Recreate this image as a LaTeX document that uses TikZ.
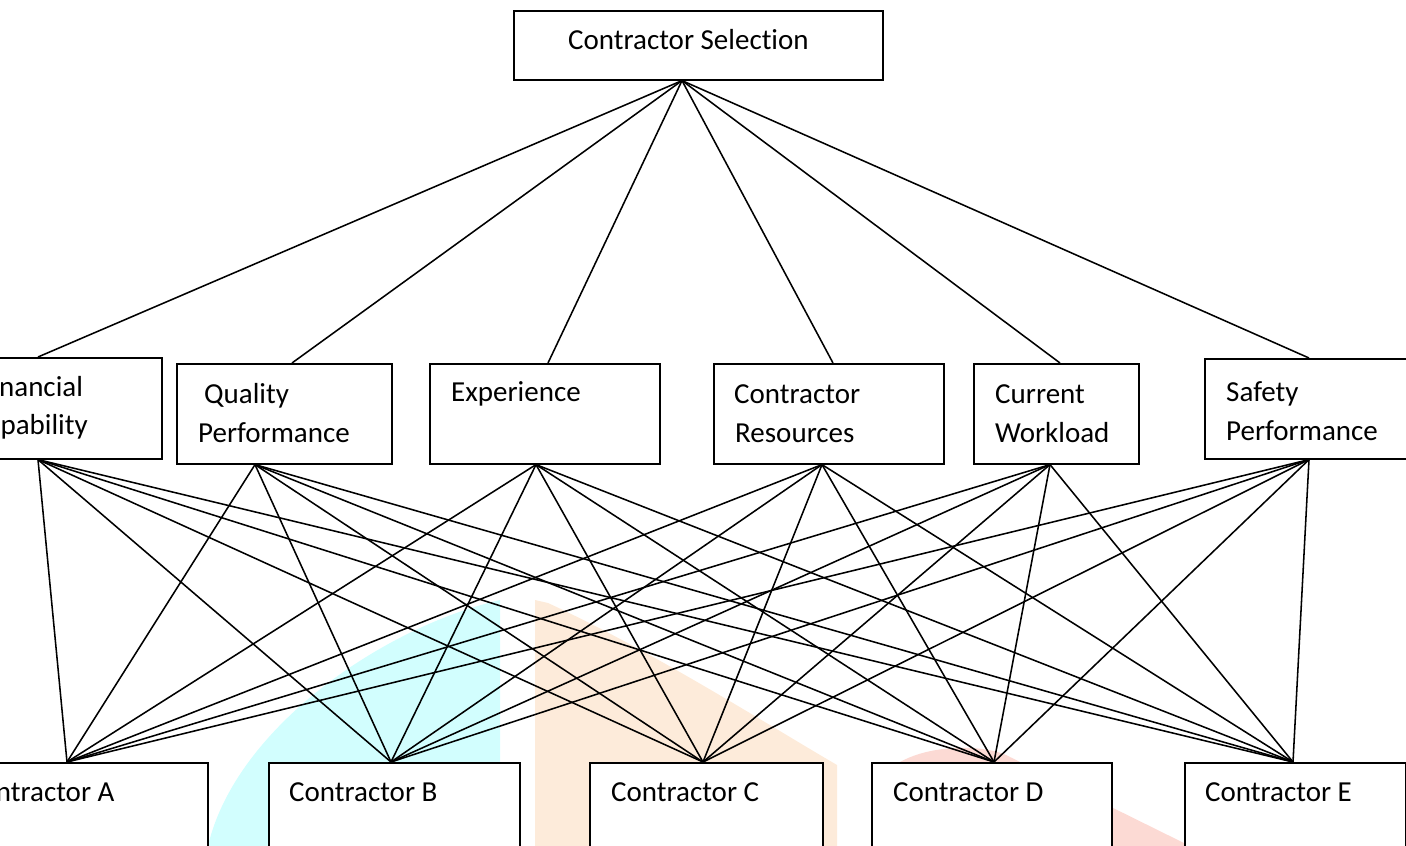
\documentclass[tikz,border=0pt]{standalone}
\usepackage{fontspec}
\setmainfont{Carlito}[Ligatures={NoCommon}]
\definecolor{wmcyan}{RGB}{210,254,254}
\definecolor{wmorange}{RGB}{253,235,218}
\definecolor{wmpink}{RGB}{252,218,212}
\begin{document}
\begin{tikzpicture}[x=1pt,y=-1pt,
  box/.style={draw=black,fill=white,line width=1.6pt,inner sep=0pt,anchor=north west},
  lbl/.style={anchor=base west,inner sep=0pt,font=\fontsize{29}{35}\selectfont},
  conn/.style={line width=1.55pt,black}]
\useasboundingbox (0,0) rectangle (1406,846);
\clip (0,0) rectangle (1406,846);
% faint watermark in the background
\fill[wmcyan] (208,846) .. controls (235,730) and (380,628) .. (500,600) -- (500,846) -- cycle;
\fill[wmorange] (535,846) -- (535,600) -- (548,603) .. controls (650,650) and (760,720) .. (837,765) -- (837,846) -- cycle;
\fill[wmpink] (895,846) -- (895,765) .. controls (930,742) and (990,745) .. (1010,757) -- (1190,846) -- cycle;
% boxes
\node[box,minimum width=369pt,minimum height=69pt] (sel) at (513,10) {};
\node[box,minimum width=221pt,minimum height=101pt] (fin) at (-60,357) {};
\node[box,minimum width=215pt,minimum height=100pt] (qual) at (176,363) {};
\node[box,minimum width=230pt,minimum height=100pt] (exp) at (429,363) {};
\node[box,minimum width=230pt,minimum height=100pt] (res) at (713,363) {};
\node[box,minimum width=165pt,minimum height=100pt] (work) at (973,363) {};
\node[box,minimum width=210pt,minimum height=100pt] (safe) at (1204,358) {};
\node[box,minimum width=267pt,minimum height=120pt] (cA) at (-60,762) {};
\node[box,minimum width=251pt,minimum height=120pt] (cB) at (268,762) {};
\node[box,minimum width=233pt,minimum height=120pt] (cC) at (589,762) {};
\node[box,minimum width=240pt,minimum height=120pt] (cD) at (871,762) {};
\node[box,minimum width=221pt,minimum height=120pt] (cE) at (1184,762) {};
% labels
\node[lbl] (tsel) at (568,49) {Contractor Selection};
\node[lbl] (tfin1) at (-21,396) {Financial};
\node[lbl] (tfin2) at (-29,434) {Capability};
\node[lbl] (tqual1) at (204,403) {Quality};
\node[lbl] (tqual2) at (198,442) {Performance};
\node[lbl] (texp) at (451,401) {Experience};
\node[lbl] (tres1) at (734,403) {Contractor};
\node[lbl] (tres2) at (735,442) {Resources};
\node[lbl] (twork1) at (995,403) {Current};
\node[lbl] (twork2) at (995,442) {Workload};
\node[lbl] (tsafe1) at (1226,401) {Safety};
\node[lbl] (tsafe2) at (1226,440) {Performance};
\node[lbl] (tA) at (-35,801) {Contractor A};
\node[lbl] (tB) at (289,801) {Contractor B};
\node[lbl] (tC) at (611,801) {Contractor C};
\node[lbl] (tD) at (893,801) {Contractor D};
\node[lbl] (tE) at (1205,801) {Contractor E};
% attachment points
\coordinate (selB) at ([xshift=169pt]sel.south west);
\coordinate (finT) at ([xshift=98pt]fin.north west);
\coordinate (finB) at ([xshift=98pt]fin.south west);
\coordinate (qualT) at ([xshift=116pt]qual.north west);
\coordinate (qualB) at ([xshift=79pt]qual.south west);
\coordinate (expT) at ([xshift=119pt]exp.north west);
\coordinate (expB) at ([xshift=107pt]exp.south west);
\coordinate (resT) at ([xshift=120pt]res.north west);
\coordinate (resB) at ([xshift=109pt]res.south west);
\coordinate (workT) at ([xshift=87pt]work.north west);
\coordinate (workB) at ([xshift=77pt]work.south west);
\coordinate (safeT) at ([xshift=105pt]safe.north west);
\coordinate (safeB) at ([xshift=105pt]safe.south west);
\coordinate (cAT) at ([xshift=127pt]cA.north west);
\coordinate (cBT) at ([xshift=123pt]cB.north west);
\coordinate (cCT) at ([xshift=114pt]cC.north west);
\coordinate (cDT) at ([xshift=123pt]cD.north west);
\coordinate (cET) at ([xshift=109pt]cE.north west);
% connectors
\foreach \n in {fin,qual,exp,res,work,safe}
  \draw[conn] (selB) -- (\n T);
\foreach \n in {fin,qual,exp,res,work,safe}
  \foreach \k in {cA,cB,cC,cD,cE}
    \draw[conn] (\n B) -- (\k T);
\end{tikzpicture}
\end{document}
